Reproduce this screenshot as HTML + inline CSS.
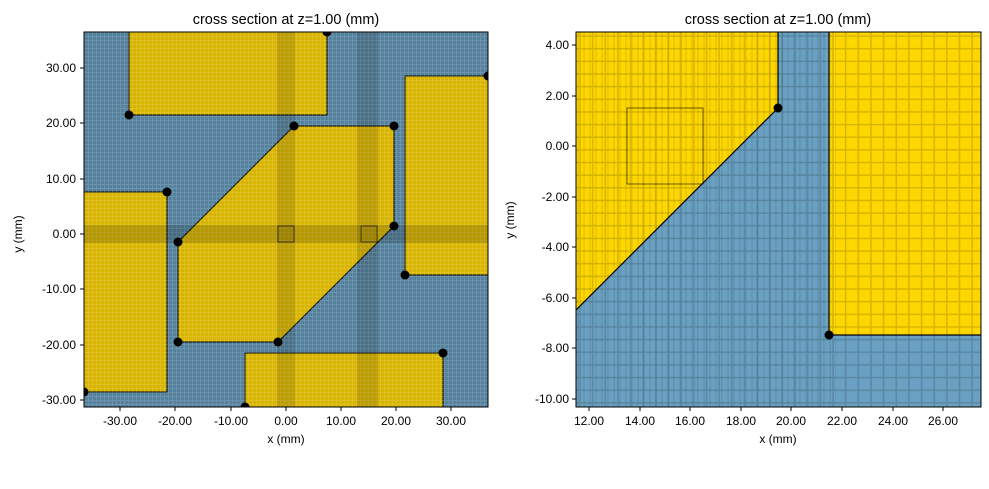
<!DOCTYPE html><html><head><style>body{margin:0;background:#fff}svg{display:block;font-family:"Liberation Sans",sans-serif}</style></head><body>
<svg width="989" height="489" viewBox="0 0 989 489" xmlns="http://www.w3.org/2000/svg">
<defs>
<pattern id="gl" width="4" height="4" patternUnits="userSpaceOnUse"><path d="M0 0.5H4M0.5 0V4" stroke="#fff" stroke-opacity="0.14" stroke-width="1"/></pattern>
<pattern id="gr" width="12.65" height="12.65" patternUnits="userSpaceOnUse" x="576" y="32"><path d="M0 4H12.65M4 0V12.65" stroke="#000" stroke-opacity="0.16" stroke-width="1.5"/></pattern>
<pattern id="gr2" width="6" height="6" patternUnits="userSpaceOnUse" x="576" y="32"><path d="M2 0V6" stroke="#000" stroke-opacity="0.1" stroke-width="1.2"/></pattern>
<clipPath id="cl"><rect x="84" y="32" width="404" height="375"/></clipPath>
<clipPath id="cr"><rect x="576" y="32" width="405" height="375"/></clipPath>
</defs>
<text x="286" y="24" font-size="14.5" text-anchor="middle">cross section at z=1.00 (mm)</text>
<text x="778" y="24" font-size="14.5" text-anchor="middle">cross section at z=1.00 (mm)</text>
<g clip-path="url(#cl)">
<rect x="84" y="32" width="404" height="375" fill="#54819d"/>
<g fill="#d8b400" stroke="#000" stroke-width="1">
<rect x="129" y="20" width="198" height="95"/>
<rect x="405" y="76" width="90" height="199"/>
<rect x="70" y="192" width="97" height="200"/>
<rect x="245" y="353" width="198" height="70"/>
<polygon points="178,242 294,126 394,126 394,226 278,342 178,342"/>
</g>
<rect x="84" y="32" width="404" height="375" fill="url(#gl)"/>
<rect x="84" y="225" width="404" height="18" fill="#000" fill-opacity="0.16"/>
<rect x="277" y="32" width="18" height="375" fill="#000" fill-opacity="0.13"/>
<rect x="357" y="32" width="21" height="375" fill="#000" fill-opacity="0.13"/>
<g fill="none" stroke="#000" stroke-width="0.8" stroke-opacity="0.7"><rect x="278" y="226" width="16" height="16"/><rect x="361" y="226" width="16" height="16"/></g>
<g fill="#000"><circle cx="178" cy="242" r="4.5"/><circle cx="294" cy="126" r="4.5"/><circle cx="394" cy="126" r="4.5"/><circle cx="394" cy="226" r="4.5"/><circle cx="278" cy="342" r="4.5"/><circle cx="178" cy="342" r="4.5"/><circle cx="327" cy="32" r="4.5"/><circle cx="129" cy="115" r="4.5"/><circle cx="167" cy="192" r="4.5"/><circle cx="84" cy="392" r="4.5"/><circle cx="245" cy="407" r="4.5"/><circle cx="443" cy="353" r="4.5"/><circle cx="488" cy="76" r="4.5"/><circle cx="405" cy="275" r="4.5"/></g>
</g>
<rect x="84" y="32" width="404" height="375" fill="none" stroke="#000" stroke-width="1"/>
<g clip-path="url(#cr)">
<rect x="576" y="32" width="405" height="375" fill="#6aa1c2"/>
<g fill="#ffd700" stroke="#000" stroke-width="1.2">
<polygon points="560,326 778,108 778,20 560,20"/>
<polygon points="829,20 829,335 995,335 995,20"/>
</g>
<rect x="576" y="32" width="405" height="375" fill="url(#gr)"/>
<rect x="576" y="32" width="260" height="375" fill="url(#gr2)"/>
<rect x="627" y="108" width="76" height="76" fill="none" stroke="#000" stroke-width="0.8" stroke-opacity="0.7"/>
<circle cx="778" cy="108" r="4.5"/><circle cx="829" cy="335" r="4.5"/>
</g>
<rect x="576" y="32" width="405" height="375" fill="none" stroke="#000" stroke-width="1"/>
<g font-size="12" fill="#000">
<g text-anchor="middle">
<text x="120" y="425">-30.00</text><text x="175" y="425">-20.00</text><text x="231" y="425">-10.00</text><text x="286" y="425">0.00</text><text x="341" y="425">10.00</text><text x="396" y="425">20.00</text><text x="451" y="425">30.00</text>
<text x="589" y="425">12.00</text><text x="640" y="425">14.00</text><text x="690" y="425">16.00</text><text x="741" y="425">18.00</text><text x="791" y="425">20.00</text><text x="842" y="425">22.00</text><text x="893" y="425">24.00</text><text x="943" y="425">26.00</text>
<text x="286" y="443">x (mm)</text><text x="778" y="443">x (mm)</text>
</g>
<g text-anchor="end">
<text x="76" y="72">30.00</text><text x="76" y="127">20.00</text><text x="76" y="183">10.00</text><text x="76" y="238">0.00</text><text x="76" y="293">-10.00</text><text x="76" y="349">-20.00</text><text x="76" y="404">-30.00</text>
<text x="569" y="49">4.00</text><text x="569" y="100">2.00</text><text x="569" y="150">0.00</text><text x="569" y="201">-2.00</text><text x="569" y="251">-4.00</text><text x="569" y="302">-6.00</text><text x="569" y="352">-8.00</text><text x="569" y="403">-10.00</text>
</g>
<text transform="translate(22,234) rotate(-90)" text-anchor="middle">y (mm)</text>
<text transform="translate(514,220) rotate(-90)" text-anchor="middle">y (mm)</text>
</g>
<g stroke="#000" stroke-width="1">
<path d="M120 407v4M175 407v4M231 407v4M286 407v4M341 407v4M396 407v4M451 407v4M84 68h-4M84 123h-4M84 179h-4M84 234h-4M84 289h-4M84 345h-4M84 400h-4"/>
<path d="M589 407v4M640 407v4M690 407v4M741 407v4M791 407v4M842 407v4M893 407v4M943 407v4M576 45h-4M576 96h-4M576 146h-4M576 197h-4M576 247h-4M576 298h-4M576 348h-4M576 399h-4"/>
</g>
</svg>
</body></html>
